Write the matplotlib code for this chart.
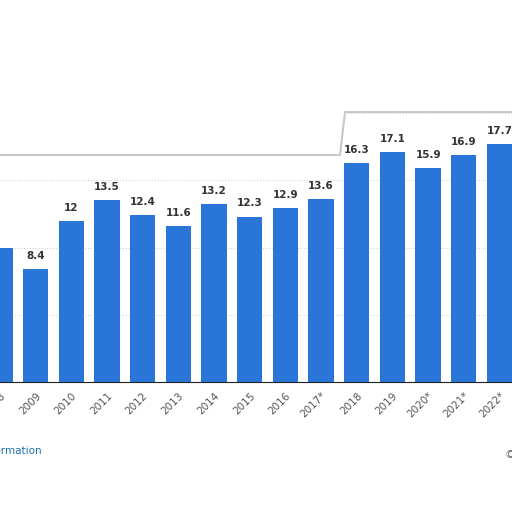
import matplotlib
matplotlib.use("Agg")
import matplotlib.pyplot as plt
from matplotlib.patches import Polygon

years = ["2008", "2009", "2010", "2011", "2012", "2013", "2014", "2015", "2016",
         "2017*", "2018", "2019", "2020*", "2021*", "2022*"]
values = [10.0, 8.4, 12, 13.5, 12.4, 11.6, 13.2, 12.3, 12.9, 13.6, 16.3, 17.1, 15.9, 16.9, 17.7]
labels = ["", "8.4", "12", "13.5", "12.4", "11.6", "13.2", "12.3", "12.9", "13.6",
          "16.3", "17.1", "15.9", "16.9", "17.7"]

fig = plt.figure(figsize=(5.12, 5.12), dpi=100)
ax = fig.add_axes([0, 130/512, 1, 282/512])
x = list(range(len(years)))
ax.bar(x, values, width=0.71, color="#2a75d8", zorder=3)
for xi, v, l in zip(x, values, labels):
    ax.text(xi, v + 0.6, l, ha="center", va="bottom", fontsize=7.5, color="#333333",
            fontweight="bold", zorder=4)
ax.set_xlim(0.36, 14.35)
ax.set_ylim(0, 282/13.45)
ax.set_yticks([5, 10, 15, 20])
ax.grid(axis="y", color="#cccccc", linestyle=(0, (1, 2)), linewidth=0.7, zorder=0)
ax.set_xticks(x)
ax.set_xticklabels(years, rotation=45, ha="right", rotation_mode="anchor", fontsize=7.5, color="#555555")
ax.tick_params(axis="x", length=0, pad=6)
ax.tick_params(axis="y", length=0, labelleft=False)
for s in ["top", "right", "left"]:
    ax.spines[s].set_visible(False)
ax.spines["bottom"].set_color("#222222")

# white cover (figure pixel coords, y from top)
pts = [(0, 0), (512, 0), (512, 112), (345, 112), (340, 155), (0, 155)]
figpts = [(px/512, 1 - py/512) for px, py in pts]
fig.patches.append(Polygon(figpts, closed=True, transform=fig.transFigure,
                           facecolor="white", edgecolor="none", zorder=10))
edge = [(0, 155), (340, 155), (345, 112), (512, 112)]
ex = [p[0]/512 for p in edge]
ey = [1 - p[1]/512 for p in edge]
fig.add_artist(plt.Line2D(ex, ey, transform=fig.transFigure, color="#c8c8c8",
                          linewidth=1.5, zorder=11))

fig.text(42/512, 1 - 451/512, "Additional Information", ha="right", va="center",
         fontsize=7.5, color="#1f6fb5")
fig.text(505/512, 1 - 455/512, "©", ha="left", va="center", fontsize=8, color="#666666")

fig.savefig("out.png", dpi=100)
